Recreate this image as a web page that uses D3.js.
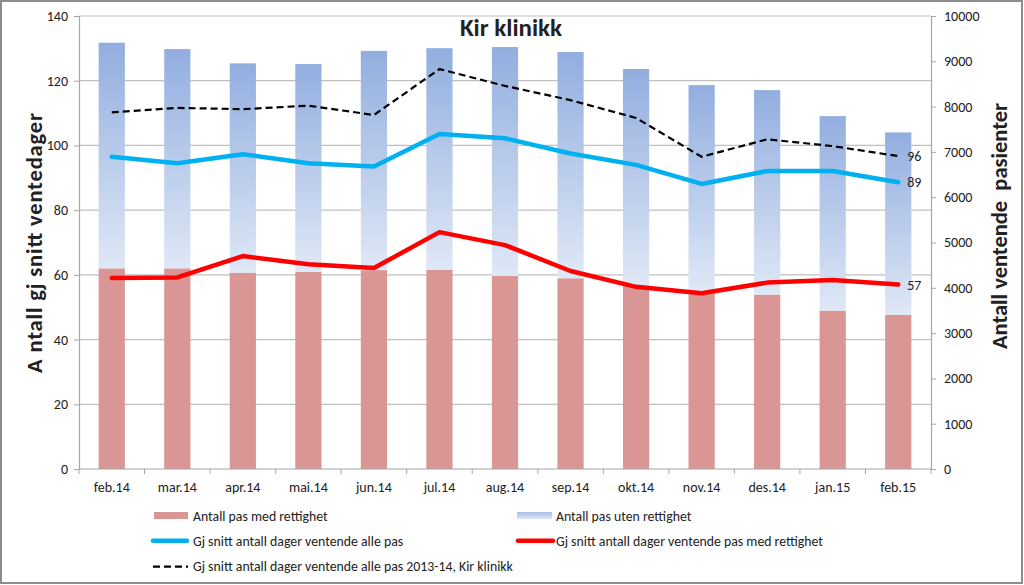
<!DOCTYPE html>
<html><head><meta charset="utf-8">
<script src="https://cdn.jsdelivr.net/npm/d3@7"></script>
<style>
html,body{margin:0;padding:0;background:#fff;}
svg{display:block;}
text{font-family:Carlito, Calibri, Lato, "Open Sans", sans-serif;fill:#222;}
</style></head><body>
<svg id="c" width="1024" height="585"></svg>
<script>
const categories = ["feb.14","mar.14","apr.14","mai.14","jun.14","jul.14","aug.14","sep.14","okt.14","nov.14","des.14","jan.15","feb.15"];
const medRettighet = [4430,4430,4335,4355,4390,4400,4260,4210,4050,3930,3850,3495,3405];
const totalPas = [9410,9270,8955,8940,9230,9290,9315,9205,8830,8475,8365,7790,7430];
const utenRettighet = totalPas.map((t,i)=>t-medRettighet[i]);
const snittAlle = [96.5,94.5,97.3,94.5,93.5,103.5,102.2,97.5,94.0,88.1,92.1,92.1,88.6];
const snittMed = [59.0,59.2,65.8,63.3,62.1,73.2,69.2,61.2,56.3,54.3,57.6,58.4,57.0];
const snitt1314 = [110.2,111.6,111.2,112.3,109.4,123.6,118.4,114.0,108.5,96.5,101.9,99.8,96.7];
const endLabels = ["96","89","57"];
const leftTicks = [0,20,40,60,80,100,120,140];
const rightTicks = [0,1000,2000,3000,4000,5000,6000,7000,8000,9000,10000];

const svg = d3.select("#c");
const L=79, R=931, T=16, B=469;
const FONT = "Carlito, Calibri, Lato, 'Open Sans', sans-serif";
const x = d3.scaleBand().domain(categories).range([L,R]).paddingInner(0.6).paddingOuter(0.3);
const xb = d3.scaleBand().domain(categories).range([L,R]);
const yL = d3.scaleLinear().domain([0,140]).range([B,T]);
const yR = d3.scaleLinear().domain([0,10000]).range([B,T]);

// border
svg.append("rect").attr("x",1).attr("y",1).attr("width",1021).attr("height",582)
  .attr("fill","#fff").attr("stroke","#8c8c8c").attr("stroke-width",2);

const defs = svg.append("defs");
const g = defs.append("linearGradient").attr("id","blueGrad").attr("x1",0).attr("y1",0).attr("x2",0).attr("y2",1);
g.append("stop").attr("offset","0%").attr("stop-color","#92aedf");
g.append("stop").attr("offset","100%").attr("stop-color","#dfe8f6");
const g2 = defs.append("linearGradient").attr("id","legGrad").attr("x1",0).attr("y1",0).attr("x2",0).attr("y2",1);
g2.append("stop").attr("offset","0%").attr("stop-color","#a9c0e6");
g2.append("stop").attr("offset","100%").attr("stop-color","#dbe5f5");

// gridlines
svg.append("g").selectAll("line").data(leftTicks.filter(d=>d>0)).join("line")
  .attr("x1",L).attr("x2",R).attr("y1",d=>yL(d)).attr("y2",d=>yL(d))
  .attr("stroke","#bfbfbf").attr("stroke-width",1.2);

// bars
const bars = svg.append("g");
bars.selectAll(".med").data(categories).join("rect")
  .attr("x",d=>x(d)).attr("width",x.bandwidth())
  .attr("y",(d,i)=>yR(medRettighet[i])).attr("height",(d,i)=>yR(0)-yR(medRettighet[i]))
  .attr("fill","#d99694");
bars.selectAll(".uten").data(categories).join("rect")
  .attr("x",d=>x(d)).attr("width",x.bandwidth())
  .attr("y",(d,i)=>yR(medRettighet[i]+utenRettighet[i])).attr("height",(d,i)=>yR(medRettighet[i])-yR(medRettighet[i]+utenRettighet[i]))
  .attr("fill","url(#blueGrad)");

// axes
const axL = svg.append("g").attr("transform",`translate(${L},0)`).call(d3.axisLeft(yL).tickValues(leftTicks).tickSize(5).tickPadding(6));
const axR = svg.append("g").attr("transform",`translate(${R},0)`).call(d3.axisRight(yR).tickValues(rightTicks).tickFormat(d3.format("d")).tickSize(5).tickPadding(8));
[axL,axR].forEach(a=>{a.selectAll("path").attr("stroke","#a6a6a6").attr("stroke-width",1.2);
  a.selectAll("line").attr("stroke","#a6a6a6");
  a.selectAll("text").attr("font-size",14).style("font-family",FONT).attr("fill","#222");});
// x axis
svg.append("line").attr("x1",L).attr("x2",R).attr("y1",B).attr("y2",B).attr("stroke","#a6a6a6").attr("stroke-width",1.2);
svg.append("g").selectAll("line").data(categories.concat(["_end"])).join("line")
  .attr("x1",(d,i)=>L+i*xb.bandwidth()).attr("x2",(d,i)=>L+i*xb.bandwidth())
  .attr("y1",B).attr("y2",B+5).attr("stroke","#a6a6a6");
svg.append("g").selectAll("text").data(categories).join("text")
  .attr("x",d=>xb(d)+xb.bandwidth()/2).attr("y",492).attr("text-anchor","middle")
  .attr("font-size",14).text(d=>d);

// lines
const lx = (d,i)=>xb(categories[i])+xb.bandwidth()/2;
const line = d3.line().x(lx).y(d=>yL(d));
svg.append("path").datum(snittAlle).attr("d",line).attr("fill","none").attr("stroke","#00b0f0").attr("stroke-width",4.5).attr("stroke-linejoin","round").attr("stroke-linecap","round");
svg.append("path").datum(snittMed).attr("d",line).attr("fill","none").attr("stroke","#ff0000").attr("stroke-width",4.5).attr("stroke-linejoin","round").attr("stroke-linecap","round");
svg.append("path").datum(snitt1314).attr("d",line).attr("fill","none").attr("stroke","#000").attr("stroke-width",2.2).attr("stroke-dasharray","7,4");

// end labels
const lastX = lx(null,categories.length-1);
[snitt1314,snittAlle,snittMed].forEach((s,k)=>{
  svg.append("text").attr("x",lastX+9).attr("y",yL(s[s.length-1])+5).attr("font-size",14).text(endLabels[k]);
});

// title
svg.append("text").attr("x",511).attr("y",36).attr("text-anchor","middle").attr("font-size",25).attr("font-weight","bold").attr("fill","#000").text("Kir klinikk");

// axis titles
svg.append("text").attr("transform","translate(42,243) rotate(-90)").attr("text-anchor","middle")
  .attr("font-size",22.5).attr("font-weight","bold").attr("fill","#000")
  .attr("textLength",260).attr("lengthAdjust","spacing").text("A ntall gj snitt ventedager");
svg.append("text").attr("transform","translate(1007,226) rotate(-90)").attr("text-anchor","middle")
  .attr("font-size",22.5).attr("font-weight","bold").attr("fill","#000").style("white-space","pre").text("Antall ventende  pasienter");

// legend
const LF = 13.8;
const leg = svg.append("g");
leg.append("rect").attr("x",154).attr("y",512).attr("width",34).attr("height",7).attr("fill","#d99694");
leg.append("text").attr("x",193).attr("y",520.5).attr("font-size",LF).text("Antall pas med rettighet");
leg.append("rect").attr("x",517).attr("y",512).attr("width",35).attr("height",7).attr("fill","url(#legGrad)");
leg.append("text").attr("x",556).attr("y",520.5).attr("font-size",LF).text("Antall pas uten rettighet");
leg.append("line").attr("x1",153).attr("x2",187).attr("y1",540.7).attr("y2",540.7).attr("stroke","#00b0f0").attr("stroke-width",4.5).attr("stroke-linecap","round");
leg.append("text").attr("x",193).attr("y",545.5).attr("font-size",LF).text("Gj snitt antall dager ventende alle pas");
leg.append("line").attr("x1",518).attr("x2",553).attr("y1",540.7).attr("y2",540.7).attr("stroke","#ff0000").attr("stroke-width",4.5).attr("stroke-linecap","round");
leg.append("text").attr("x",556).attr("y",545.5).attr("font-size",LF).text("Gj snitt antall dager ventende pas med rettighet");
leg.append("line").attr("x1",153).attr("x2",188).attr("y1",566.7).attr("y2",566.7).attr("stroke","#000").attr("stroke-width",2.2).attr("stroke-dasharray","7,4");
leg.append("text").attr("x",193).attr("y",571).attr("font-size",LF).text("Gj snitt antall dager ventende alle pas 2013-14, Kir klinikk");
</script></body></html>
